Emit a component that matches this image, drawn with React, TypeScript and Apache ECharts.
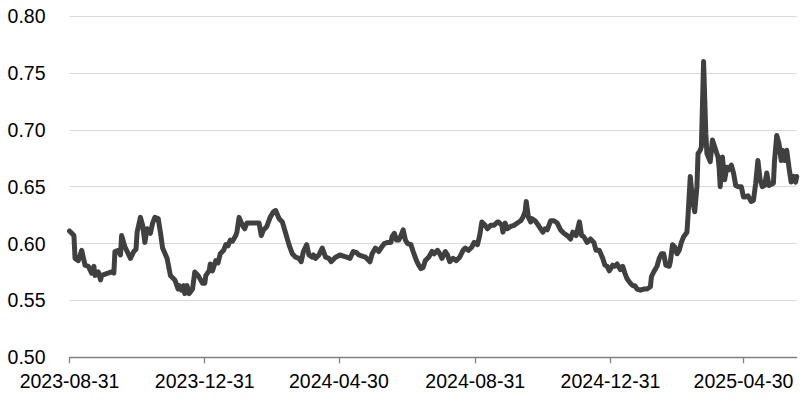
import React, { useEffect, useRef } from "react";
import * as echarts from "echarts";

const dates: string[] = [
  "2023-08-31","2023-09-04","2023-09-05","2023-09-08","2023-09-11","2023-09-14","2023-09-17","2023-09-20","2023-09-22","2023-09-23",
  "2023-09-26","2023-09-28","2023-09-29","2023-10-08","2023-10-10","2023-10-11","2023-10-14","2023-10-16","2023-10-17","2023-10-20",
  "2023-10-25","2023-10-28","2023-10-30","2023-10-31","2023-11-03","2023-11-05","2023-11-07","2023-11-09","2023-11-12","2023-11-14",
  "2023-11-16","2023-11-19","2023-11-21","2023-11-23","2023-11-27","2023-11-30","2023-12-02","2023-12-04","2023-12-07","2023-12-08",
  "2023-12-10","2023-12-12","2023-12-13","2023-12-15","2023-12-17","2023-12-20","2023-12-22","2023-12-25","2023-12-29","2023-12-31",
  "2024-01-01","2024-01-04","2024-01-05","2024-01-07","2024-01-10","2024-01-12","2024-01-14","2024-01-17","2024-01-19","2024-01-21",
  "2024-01-23","2024-01-25","2024-01-28","2024-01-29","2024-01-31","2024-02-03","2024-02-05","2024-02-07","2024-02-18","2024-02-20",
  "2024-02-22","2024-02-25","2024-02-28","2024-03-02","2024-03-04","2024-03-07","2024-03-10","2024-03-13","2024-03-16","2024-03-19",
  "2024-03-22","2024-03-25","2024-03-27","2024-03-29","2024-04-01","2024-04-03","2024-04-06","2024-04-07","2024-04-09","2024-04-12",
  "2024-04-15","2024-04-18","2024-04-21","2024-04-23","2024-04-27","2024-05-01","2024-05-04","2024-05-07","2024-05-10","2024-05-13",
  "2024-05-16","2024-05-18","2024-05-21","2024-05-24","2024-05-27","2024-05-28","2024-05-30","2024-06-02","2024-06-05","2024-06-07",
  "2024-06-10","2024-06-13","2024-06-16","2024-06-17","2024-06-19","2024-06-21","2024-06-23","2024-06-25","2024-06-27","2024-06-29",
  "2024-07-01","2024-07-04","2024-07-06","2024-07-09","2024-07-11","2024-07-13","2024-07-15","2024-07-17","2024-07-20","2024-07-23",
  "2024-07-25","2024-07-28","2024-07-30","2024-08-01","2024-08-04","2024-08-06","2024-08-08","2024-08-11","2024-08-14","2024-08-17",
  "2024-08-20","2024-08-22","2024-08-25","2024-08-28","2024-08-30","2024-09-02","2024-09-04","2024-09-06","2024-09-09","2024-09-11",
  "2024-09-14","2024-09-17","2024-09-20","2024-09-21","2024-09-24","2024-09-25","2024-09-27","2024-09-29","2024-10-02","2024-10-05",
  "2024-10-08","2024-10-11","2024-10-13","2024-10-15","2024-10-16","2024-10-18","2024-10-20","2024-10-21","2024-10-24","2024-10-27",
  "2024-10-31","2024-11-02","2024-11-04","2024-11-07","2024-11-10","2024-11-13","2024-11-16","2024-11-19","2024-11-22","2024-11-25",
  "2024-11-27","2024-11-30","2024-12-03","2024-12-05","2024-12-07","2024-12-10","2024-12-13","2024-12-16","2024-12-18","2024-12-21",
  "2024-12-24","2024-12-26","2024-12-28","2024-12-30","2025-01-02","2025-01-04","2025-01-06","2025-01-09","2025-01-11","2025-01-13",
  "2025-01-15","2025-01-18","2025-01-20","2025-01-22","2025-01-24","2025-01-27","2025-01-30","2025-02-02","2025-02-05","2025-02-06",
  "2025-02-08","2025-02-11","2025-02-13","2025-02-15","2025-02-17","2025-02-19","2025-02-22","2025-02-23","2025-02-25","2025-02-27",
  "2025-03-01","2025-03-03","2025-03-05","2025-03-07","2025-03-10","2025-03-11","2025-03-13","2025-03-15","2025-03-17","2025-03-19",
  "2025-03-20","2025-03-22","2025-03-23","2025-03-25","2025-03-27","2025-03-28","2025-03-31","2025-04-02","2025-04-04","2025-04-07",
  "2025-04-08","2025-04-09","2025-04-11","2025-04-13","2025-04-15","2025-04-17","2025-04-19","2025-04-21","2025-04-23","2025-04-25",
  "2025-04-28","2025-04-30","2025-05-02","2025-05-04","2025-05-07","2025-05-09","2025-05-11","2025-05-13","2025-05-15","2025-05-17",
  "2025-05-19","2025-05-21","2025-05-23","2025-05-25","2025-05-27","2025-05-28","2025-05-30","2025-06-01","2025-06-03","2025-06-04",
  "2025-06-06","2025-06-08","2025-06-10","2025-06-12","2025-06-14","2025-06-16","2025-06-17"
];

const values: number[] = [
  0.611,0.607,0.587,0.585,0.594,0.581,0.580,0.574,0.580,0.572,
  0.575,0.568,0.572,0.575,0.574,0.593,0.594,0.590,0.607,0.597,
  0.587,0.593,0.595,0.610,0.623,0.616,0.601,0.613,0.609,0.618,
  0.623,0.622,0.610,0.596,0.587,0.572,0.570,0.568,0.560,0.563,
  0.559,0.563,0.556,0.563,0.556,0.560,0.575,0.572,0.565,0.565,
  0.572,0.576,0.582,0.576,0.585,0.583,0.591,0.594,0.599,0.598,
  0.603,0.602,0.607,0.610,0.623,0.616,0.613,0.618,0.618,0.607,
  0.612,0.615,0.623,0.628,0.629,0.622,0.619,0.609,0.599,0.591,
  0.588,0.587,0.584,0.593,0.599,0.590,0.588,0.590,0.587,0.590,
  0.596,0.588,0.587,0.584,0.588,0.590,0.589,0.588,0.587,0.593,
  0.592,0.590,0.589,0.588,0.585,0.584,0.591,0.596,0.593,0.596,
  0.600,0.601,0.601,0.606,0.609,0.603,0.603,0.607,0.612,0.603,
  0.600,0.599,0.593,0.585,0.581,0.578,0.579,0.585,0.588,0.593,
  0.591,0.594,0.591,0.587,0.593,0.590,0.584,0.587,0.585,0.588,
  0.594,0.596,0.594,0.597,0.601,0.599,0.607,0.619,0.616,0.613,
  0.616,0.616,0.619,0.619,0.616,0.610,0.618,0.613,0.615,0.616,
  0.618,0.620,0.623,0.628,0.637,0.623,0.619,0.622,0.620,0.616,
  0.610,0.613,0.612,0.620,0.620,0.618,0.612,0.609,0.607,0.604,
  0.610,0.607,0.619,0.607,0.606,0.601,0.604,0.601,0.594,0.594,
  0.587,0.581,0.580,0.576,0.581,0.580,0.582,0.577,0.580,0.574,
  0.569,0.565,0.563,0.563,0.560,0.559,0.560,0.560,0.562,0.571,
  0.575,0.580,0.587,0.591,0.591,0.581,0.580,0.584,0.599,0.597,
  0.591,0.594,0.601,0.606,0.610,0.625,0.659,0.638,0.628,0.650,
  0.679,0.682,0.685,0.760,0.697,0.679,0.672,0.691,0.685,0.676,
  0.667,0.650,0.676,0.656,0.667,0.665,0.669,0.662,0.651,0.650,
  0.650,0.641,0.641,0.642,0.637,0.638,0.653,0.673,0.656,0.650,
  0.651,0.662,0.651,0.652,0.653,0.673,0.695,0.688,0.673,0.682,
  0.673,0.682,0.667,0.654,0.659,0.654,0.659
];

const tickDates: string[] = ["2023-08-31", "2023-12-31", "2024-04-30", "2024-08-31", "2024-12-31", "2025-04-30"];

const yMin = 0.5;
const yMax = 0.8;
const yStep = 0.05;

function toTime(s: string): number {
  const [y, m, d] = s.split("-").map(Number);
  return Date.UTC(y, m - 1, d);
}

function fmt(t: number): string {
  const d = new Date(t);
  const mm = String(d.getUTCMonth() + 1).padStart(2, "0");
  const dd = String(d.getUTCDate()).padStart(2, "0");
  return `${d.getUTCFullYear()}-${mm}-${dd}`;
}

export default function App() {
  const ref = useRef<HTMLDivElement>(null);
  useEffect(() => {
    if (!ref.current) return;
    const chart = echarts.init(ref.current, null, { renderer: "svg" });
    const font = "'Liberation Sans', Arial, sans-serif";
    const ticks = tickDates.map(toTime);
    chart.setOption({
      animation: false,
      backgroundColor: "#ffffff",
      grid: { left: 69.5, right: 12.3, top: 16, bottom: 43.7, containLabel: false, outerBoundsMode: "none" },
      xAxis: {
        type: "value",
        min: toTime(dates[0]),
        max: toTime(dates[dates.length - 1]),
        axisLine: { show: true, lineStyle: { color: "#808080", width: 1.3 } },
        axisTick: { show: true, customValues: ticks, length: 6, lineStyle: { color: "#808080", width: 1.3 } },
        axisLabel: {
          customValues: ticks,
          formatter: (v: number) => fmt(v),
          color: "#000000",
          fontSize: 19.5,
          fontFamily: font,
          margin: 14,
          hideOverlap: false,
        },
        splitLine: { show: false },
      },
      yAxis: {
        type: "value",
        min: yMin,
        max: yMax,
        interval: yStep,
        axisLine: { show: false },
        axisTick: { show: false },
        axisLabel: {
          formatter: (v: number) => v.toFixed(2),
          color: "#000000",
          fontSize: 19.5,
          fontFamily: font,
          margin: 24,
        },
        splitLine: { show: true, lineStyle: { color: "#d9d9d9", width: 1 } },
      },
      series: [
        {
          type: "line",
          data: dates.map((d, i) => [toTime(d), values[i]]),
          showSymbol: false,
          symbol: "none",
          lineStyle: { color: "#404040", width: 5, join: "round", cap: "round" },
          z: 3,
        },
      ],
    });
    return () => chart.dispose();
  }, []);
  return (
    <div
      ref={ref}
      style={{ position: "fixed", left: 0, top: 0, width: 809, height: 401, background: "#fff" }}
    />
  );
}
